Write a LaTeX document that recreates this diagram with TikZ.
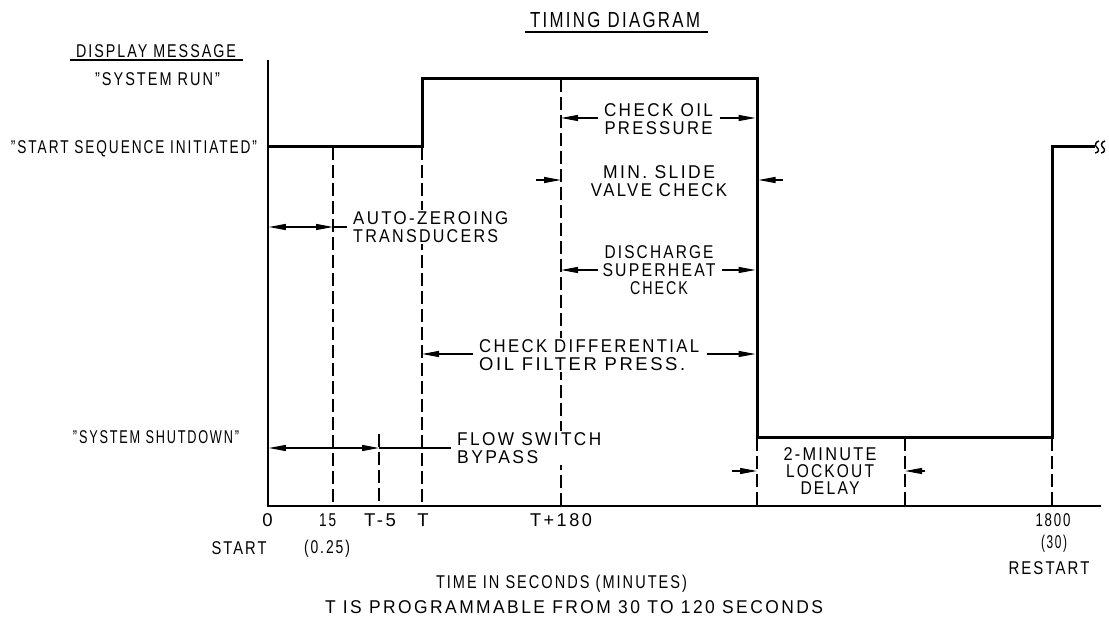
\documentclass[tikz,border=0pt]{standalone}
\usepackage{fontspec}
\usepackage{graphicx}
\defaultfontfeatures{}
\setmainfont{Liberation Sans}[LetterSpace=14]
\usetikzlibrary{arrows.meta}
\newcommand{\W}[2]{\resizebox{#1pt}{\height}{#2}}
\tikzset{
  sig/.style={line width=3pt, line join=miter},
  axisln/.style={line width=1.6pt},
  ulin/.style={line width=1.5pt},
  dashln/.style={line width=1.2pt, dash pattern=on 13pt off 5pt},
  dimln/.style={line width=1.2pt},
  arr/.style={dimln, -{Triangle[length=17pt,width=6pt]}},
  darr/.style={dimln, {Triangle[length=17pt,width=6pt]}-{Triangle[length=17pt,width=6pt]}},
  lbl/.style={anchor=base, inner sep=0pt, font=\fontsize{18.5}{18}\selectfont},
  blk/.style={inner sep=1.5pt, fill=white, align=center, font=\fontsize{18.5}{18}\selectfont},
}
\begin{document}
\begin{tikzpicture}[x=1pt,y=-1pt]
\useasboundingbox (0,0) rectangle (1109,617);
\fill[white] (0,0) rectangle (1109,617);

% ---- key coordinates
\coordinate (ytop) at (268,60);
\coordinate (o) at (268,506);
\coordinate (xend) at (1101,506);
\coordinate (s0) at (268,147);
\coordinate (s1) at (422,147);
\coordinate (s2) at (422,79);
\coordinate (s3) at (757,79);
\coordinate (s4) at (757,438);
\coordinate (s5) at (1052,438);
\coordinate (s6) at (1052,147);
\coordinate (s7) at (1095,147);

\coordinate (d15t) at (333,147);  \coordinate (d15b) at (333,506);
\coordinate (dT5t) at (379,434);  \coordinate (dT5b) at (379,506);
\coordinate (dTb) at (422,506);
\coordinate (d180t) at (561,79);  \coordinate (d180b) at (561,506);
\coordinate (dsb) at (757,506);
\coordinate (dlt) at (905,438);   \coordinate (dlb) at (905,506);
\coordinate (drb) at (1052,506);

% ---- dashed time marks
\draw[dashln] (d15t) -- (d15b);
\draw[dashln] (dT5t) -- (dT5b);
\draw[dashln] (s1) -- (dTb);
\draw[dashln] (d180t) -- (d180b);
\draw[dashln] (s4) -- (dsb);
\draw[dashln] (dlt) -- (dlb);
\draw[dashln] (s5) -- (drb);

% ---- axes
\draw[axisln] (ytop) -- (o) -- (xend);

% ---- title and headings
\node[lbl, font=\fontsize{21.8}{24}\selectfont] (title) at (615,27.3) {\W{170}{TIMING DIAGRAM}};
\draw[ulin] (525,32) -- (708,32);
\node[lbl] (disp) at (156,57.3) {\W{160}{DISPLAY MESSAGE}};
\draw[ulin] (70,60) -- (243,60);
\node[lbl] (run) at (157.5,85.3) {\W{125}{"SYSTEM RUN"}};
\node[lbl] (seq) at (134,154) {\W{246}{"START SEQUENCE INITIATED"}};
\node[lbl] (shut) at (156,443.3) {\W{166}{"SYSTEM SHUTDOWN"}};

% ---- interval labels
\node[blk, align=left, anchor=west] (az) at (351.5,227) {\W{155}{AUTO-ZEROING}\\\W{145}{TRANSDUCERS}};
\node[blk] (oil) at (658.5,118.75) {\W{109}{CHECK OIL}\\\W{108}{PRESSURE}};
\node[blk] (msv) at (659,181) {\W{112}{MIN. SLIDE}\\\W{136}{VALVE CHECK}};
\node[blk] (dsh) at (659,270.5) {\W{109}{DISCHARGE}\\\W{113}{SUPERHEAT}\\\W{58}{CHECK}};
\node[blk, align=left, anchor=west] (dif) at (477.5,355.3) {\W{220}{CHECK DIFFERENTIAL}\\\W{206}{OIL FILTER PRESS.}};
\node[blk, align=left, anchor=west] (fsb) at (455.5,448) {\W{144}{FLOW SWITCH}\\\W{81}{BYPASS}};
\node[blk, font=\fontsize{18.5}{17}\selectfont] (lock) at (830,470.7) {\W{93}{2-MINUTE}\\\W{88}{LOCKOUT}\\\W{59}{DELAY}};

% ---- signal
\draw[sig] (s0) -- (s1) -- (s2) -- (s3) -- (s4) -- (s5) -- (s6) -- (s7);
\draw[line width=1.4pt] (1099,141) .. controls (1094.5,142) and (1095,146) .. (1097,147.5) .. controls (1099,149) and (1099.5,152.5) .. (1095,153);
\draw[line width=1.4pt] (1105,141) .. controls (1100.5,142) and (1101,146) .. (1103,147.5) .. controls (1105,149) and (1105.5,152.5) .. (1101,153);

% ---- dimension arrows
\coordinate (az1) at (268.8,227); \coordinate (az2) at (333,227); \coordinate (az3) at (347,227);
\draw[darr] (az1) -- (az2);
\draw[dimln] (az2) -- (az3);

\coordinate (fs1) at (268.8,448); \coordinate (fs2) at (379,448); \coordinate (fs3) at (451,448);
\draw[darr] (fs1) -- (fs2);
\draw[dimln] (fs2) -- (fs3);

\coordinate (op1) at (598,118); \coordinate (op2) at (561,118);
\coordinate (op3) at (720,118); \coordinate (op4) at (755.5,118);
\draw[arr] (op1) -- (op2);
\draw[arr] (op3) -- (op4);

\coordinate (ms1) at (536,180); \coordinate (ms2) at (561,180);
\coordinate (ms3) at (783,180); \coordinate (ms4) at (758.5,180);
\draw[arr] (ms1) -- (ms2);
\draw[arr] (ms3) -- (ms4);

\coordinate (dc1) at (598,270); \coordinate (dc2) at (561,270);
\coordinate (dc3) at (722,270); \coordinate (dc4) at (755.5,270);
\draw[arr] (dc1) -- (dc2);
\draw[arr] (dc3) -- (dc4);

\coordinate (df1) at (473,354); \coordinate (df2) at (422,354);
\coordinate (df3) at (707,354); \coordinate (df4) at (755.5,354);
\draw[arr] (df1) -- (df2);
\draw[arr] (df3) -- (df4);

\coordinate (lo1) at (732,471); \coordinate (lo2) at (757,471);
\coordinate (lo3) at (925,471); \coordinate (lo4) at (905,471);
\draw[arr] (lo1) -- (lo2);
\draw[arr] (lo3) -- (lo4);

% ---- axis labels
\node[lbl] (l0) at (267.5,526) {0};
\node[lbl] (l15) at (327.6,526) {\W{17}{15}};
\node[lbl] (lT5) at (380,526) {\W{32}{T-5}};
\node[lbl] (lT) at (423,526) {T};
\node[lbl] (lT180) at (561,526) {\W{62}{T+180}};
\node[lbl] (l1800) at (1053,526.7) {\W{35}{1800}};
\node[lbl] (l30) at (1054,548.3) {\W{26}{(30)}};
\node[lbl] (lrestart) at (1049,574) {\W{81}{RESTART}};
\node[lbl] (lstart) at (239,554.3) {\W{55}{START}};
\node[lbl] (l025) at (327,553.5) {\W{46}{(0.25)}};
\node[lbl] (ltime) at (561.5,588.3) {\W{251}{TIME IN SECONDS (MINUTES)}};
\node[lbl] (lprog) at (574,613.3) {\W{498}{T IS PROGRAMMABLE FROM 30 TO 120 SECONDS}};
\end{tikzpicture}
\end{document}
